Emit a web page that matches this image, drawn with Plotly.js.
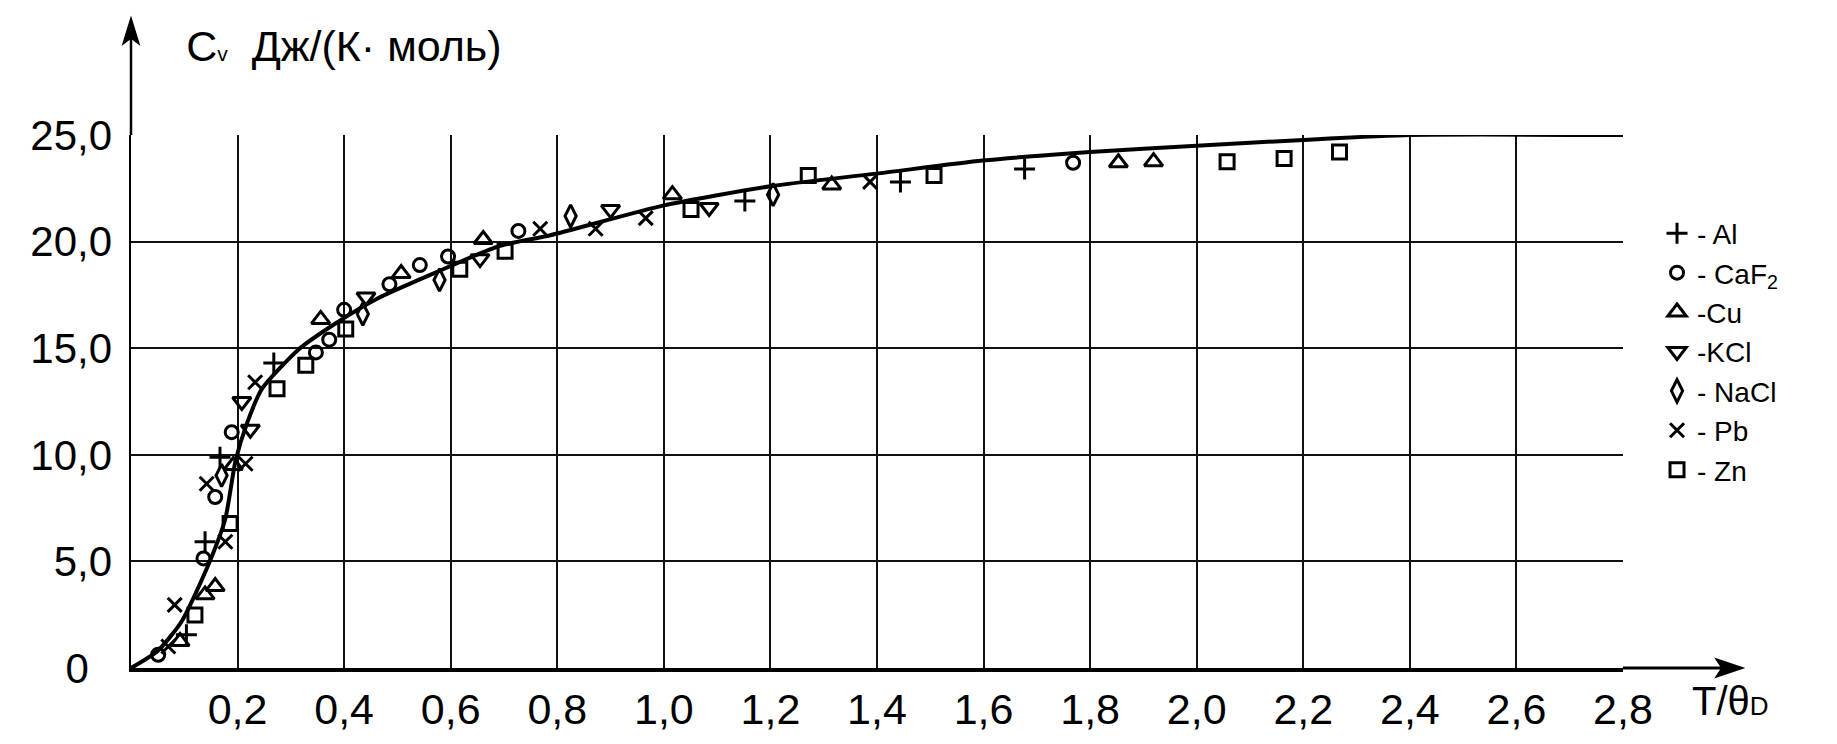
<!DOCTYPE html>
<html>
<head>
<meta charset="utf-8">
<script src="https://cdn.plot.ly/plotly-3.0.1.min.js"></script>
<style>html,body{margin:0;padding:0;background:#fff;}#chart{width:1837px;height:744px;}</style>
</head>
<body>
<div id="chart"></div>
<script>
// ---- data ----
const curveX = [0, 0.05, 0.095, 0.145, 0.177, 0.196, 0.218, 0.246, 0.315, 0.38, 0.46, 0.567, 0.692, 0.787, 1.0, 1.2, 1.403, 1.598, 1.8, 2.0, 2.2, 2.4, 2.8];
const curveY = [0, 0.8, 2.18, 4.83, 7.0, 9.7, 11.5, 13.1, 14.95, 16.1, 17.3, 18.5, 19.8, 20.3, 21.7, 22.6, 23.2, 23.8, 24.2, 24.5, 24.77, 25.0, 25.0];

const alX = [0.104, 0.139, 0.167, 0.268, 1.152, 1.444, 1.677];
const alY = [1.56, 5.92, 9.89, 14.3, 21.9, 22.8, 23.4];

const caf2X = [0.051, 0.136, 0.158, 0.189, 0.347, 0.372, 0.40, 0.485, 0.542, 0.595, 0.727, 1.768];
const caf2Y = [0.62, 5.14, 8.02, 11.06, 14.8, 15.4, 16.8, 18.0, 18.9, 19.3, 20.5, 23.7];

const cuX = [0.092, 0.139, 0.158, 0.192, 0.356, 0.507, 0.661, 1.016, 1.315, 1.853, 1.919];
const cuY = [1.24, 3.43, 3.82, 9.5, 16.35, 18.5, 20.1, 22.2, 22.66, 23.7, 23.75];

const kclX = [0.208, 0.224, 0.441, 0.655, 0.90, 1.085];
const kclY = [12.5, 11.2, 17.4, 19.2, 21.5, 21.6];

const naclX = [0.17, 0.435, 0.579, 0.825, 1.205];
const naclY = [9.03, 16.6, 18.2, 21.2, 22.2];

const pbX = [0.070, 0.082, 0.177, 0.142, 0.215, 0.233, 0.768, 0.872, 0.966, 1.387];
const pbY = [1.01, 2.96, 5.92, 8.64, 9.58, 13.4, 20.6, 20.6, 21.1, 22.8];

const znX = [0.12, 0.186, 0.274, 0.328, 0.403, 0.617, 0.702, 1.051, 1.271, 1.507, 2.057, 2.164, 2.268];
const znY = [2.49, 6.78, 13.1, 14.2, 15.9, 18.7, 19.55, 21.5, 23.1, 23.1, 23.75, 23.9, 24.2];

const xTickVals = [0.2, 0.4, 0.6, 0.8, 1.0, 1.2, 1.4, 1.6, 1.8, 2.0, 2.2, 2.4, 2.6, 2.8];
const xTickText = ['0,2', '0,4', '0,6', '0,8', '1,0', '1,2', '1,4', '1,6', '1,8', '2,0', '2,2', '2,4', '2,6', '2,8'];
const yTickVals = [0, 5, 10, 15, 20, 25];
const yTickText = ['0\u00a0\u00a0', '5,0', '10,0', '15,0', '20,0', '25,0'];

// ---- rendering ----
const FONT = 'Liberation Sans, Arial, sans-serif';
function pts(x, y, name, symbol, size) {
  return {
    x: x, y: y, name: name, type: 'scatter', mode: 'markers',
    marker: {symbol: symbol, size: size, color: '#000', line: {color: '#000', width: 3}},
    showlegend: true
  };
}
const traces = [
  {x: curveX, y: curveY, type: 'scatter', mode: 'lines', line: {color: '#000', width: 4, shape: 'spline', smoothing: 0.6}, showlegend: false, hoverinfo: 'skip'},
  pts(alX, alY, '- Al', 'cross-thin-open', 15),
  pts(caf2X, caf2Y, '- CaF<sub>2</sub>', 'circle-open', 13),
  pts(cuX, cuY, '-Cu', 'triangle-up-open', 16),
  pts(kclX, kclY, '-KCl', 'triangle-down-open', 16),
  pts(naclX, naclY, '- NaCl', 'diamond-tall-open', 16),
  pts(pbX, pbY, '- Pb', 'x-thin-open', 14),
  pts(znX, znY, '- Zn', 'square-open', 14)
];

// axis-arrow decorations in paper coordinates (plot area: 1492 x 533 px)
const PW = 1492, PH = 533;
const px = v => v / PW, py = v => v / PH;
const layout = {
  width: 1837, height: 744, autosize: false,
  paper_bgcolor: '#fff', plot_bgcolor: '#fff',
  margin: {l: 131, r: 214, t: 135, b: 76, pad: 0},
  font: {family: FONT, color: '#000'},
  title: {
    text: 'C<span style="font-size:21px">v</span>\u00a0\u00a0Дж/(К·\u00a0моль)',
    x: 0.037, xref: 'paper', xanchor: 'left',
    y: 0.938, yref: 'container', yanchor: 'middle',
    font: {family: FONT, size: 43, color: '#000'}
  },
  xaxis: {
    range: [0, 2.8], tickvals: xTickVals, ticktext: xTickText,
    showgrid: true, gridcolor: '#111', gridwidth: 2,
    showline: true, linecolor: '#000', linewidth: 3.5,
    zeroline: false, ticks: '', ticklabelstandoff: 1,
    tickfont: {family: FONT, size: 43, color: '#000'}, fixedrange: true
  },
  yaxis: {
    range: [0, 25], tickvals: yTickVals, ticktext: yTickText,
    showgrid: true, gridcolor: '#111', gridwidth: 2,
    showline: true, linecolor: '#000', linewidth: 2.5,
    zeroline: false, ticks: '', ticklabelstandoff: 8,
    tickfont: {family: FONT, size: 42, color: '#000'}, fixedrange: true
  },
  legend: {
    x: 1.0228, y: 0.862, xanchor: 'left', yanchor: 'top',
    font: {family: FONT, size: 28, color: '#000'},
    bgcolor: 'rgba(0,0,0,0)', borderwidth: 0, tracegroupgap: 0
  },
  shapes: [
    // x-axis extension with arrowhead
    {type: 'line', xref: 'paper', yref: 'paper', x0: 1, y0: 0, x1: px(1735 - 131), y1: 0, line: {color: '#000', width: 3}},
    {type: 'path', xref: 'paper', yref: 'paper',
     path: 'M ' + px(1743 - 131) + ',0 L ' + px(1716 - 131) + ',' + py(9) + ' L ' + px(1722 - 131) + ',0 L ' + px(1716 - 131) + ',' + py(-9) + ' Z',
     fillcolor: '#000', line: {color: '#000', width: 1.5}},
    // y-axis extension with arrowhead
    {type: 'line', xref: 'paper', yref: 'paper', x0: 0, y0: 1, x1: 0, y1: py(668 - 26), line: {color: '#000', width: 2.5}},
    {type: 'path', xref: 'paper', yref: 'paper',
     path: 'M 0,' + py(668 - 18) + ' L ' + px(-8) + ',' + py(668 - 44) + ' L 0,' + py(668 - 38) + ' L ' + px(8) + ',' + py(668 - 44) + ' Z',
     fillcolor: '#000', line: {color: '#000', width: 1.5}}
  ],
  annotations: [
    {xref: 'paper', x: 1.045, yref: 'paper', y: -0.062, xanchor: 'left', yanchor: 'middle',
     text: 'T/θ<span style="font-size:26px">D</span>', showarrow: false,
     font: {family: FONT, size: 40, color: '#000'}}
  ]
};

Plotly.newPlot('chart', traces, layout, {displayModeBar: false, staticPlot: true});
</script>
</body>
</html>
